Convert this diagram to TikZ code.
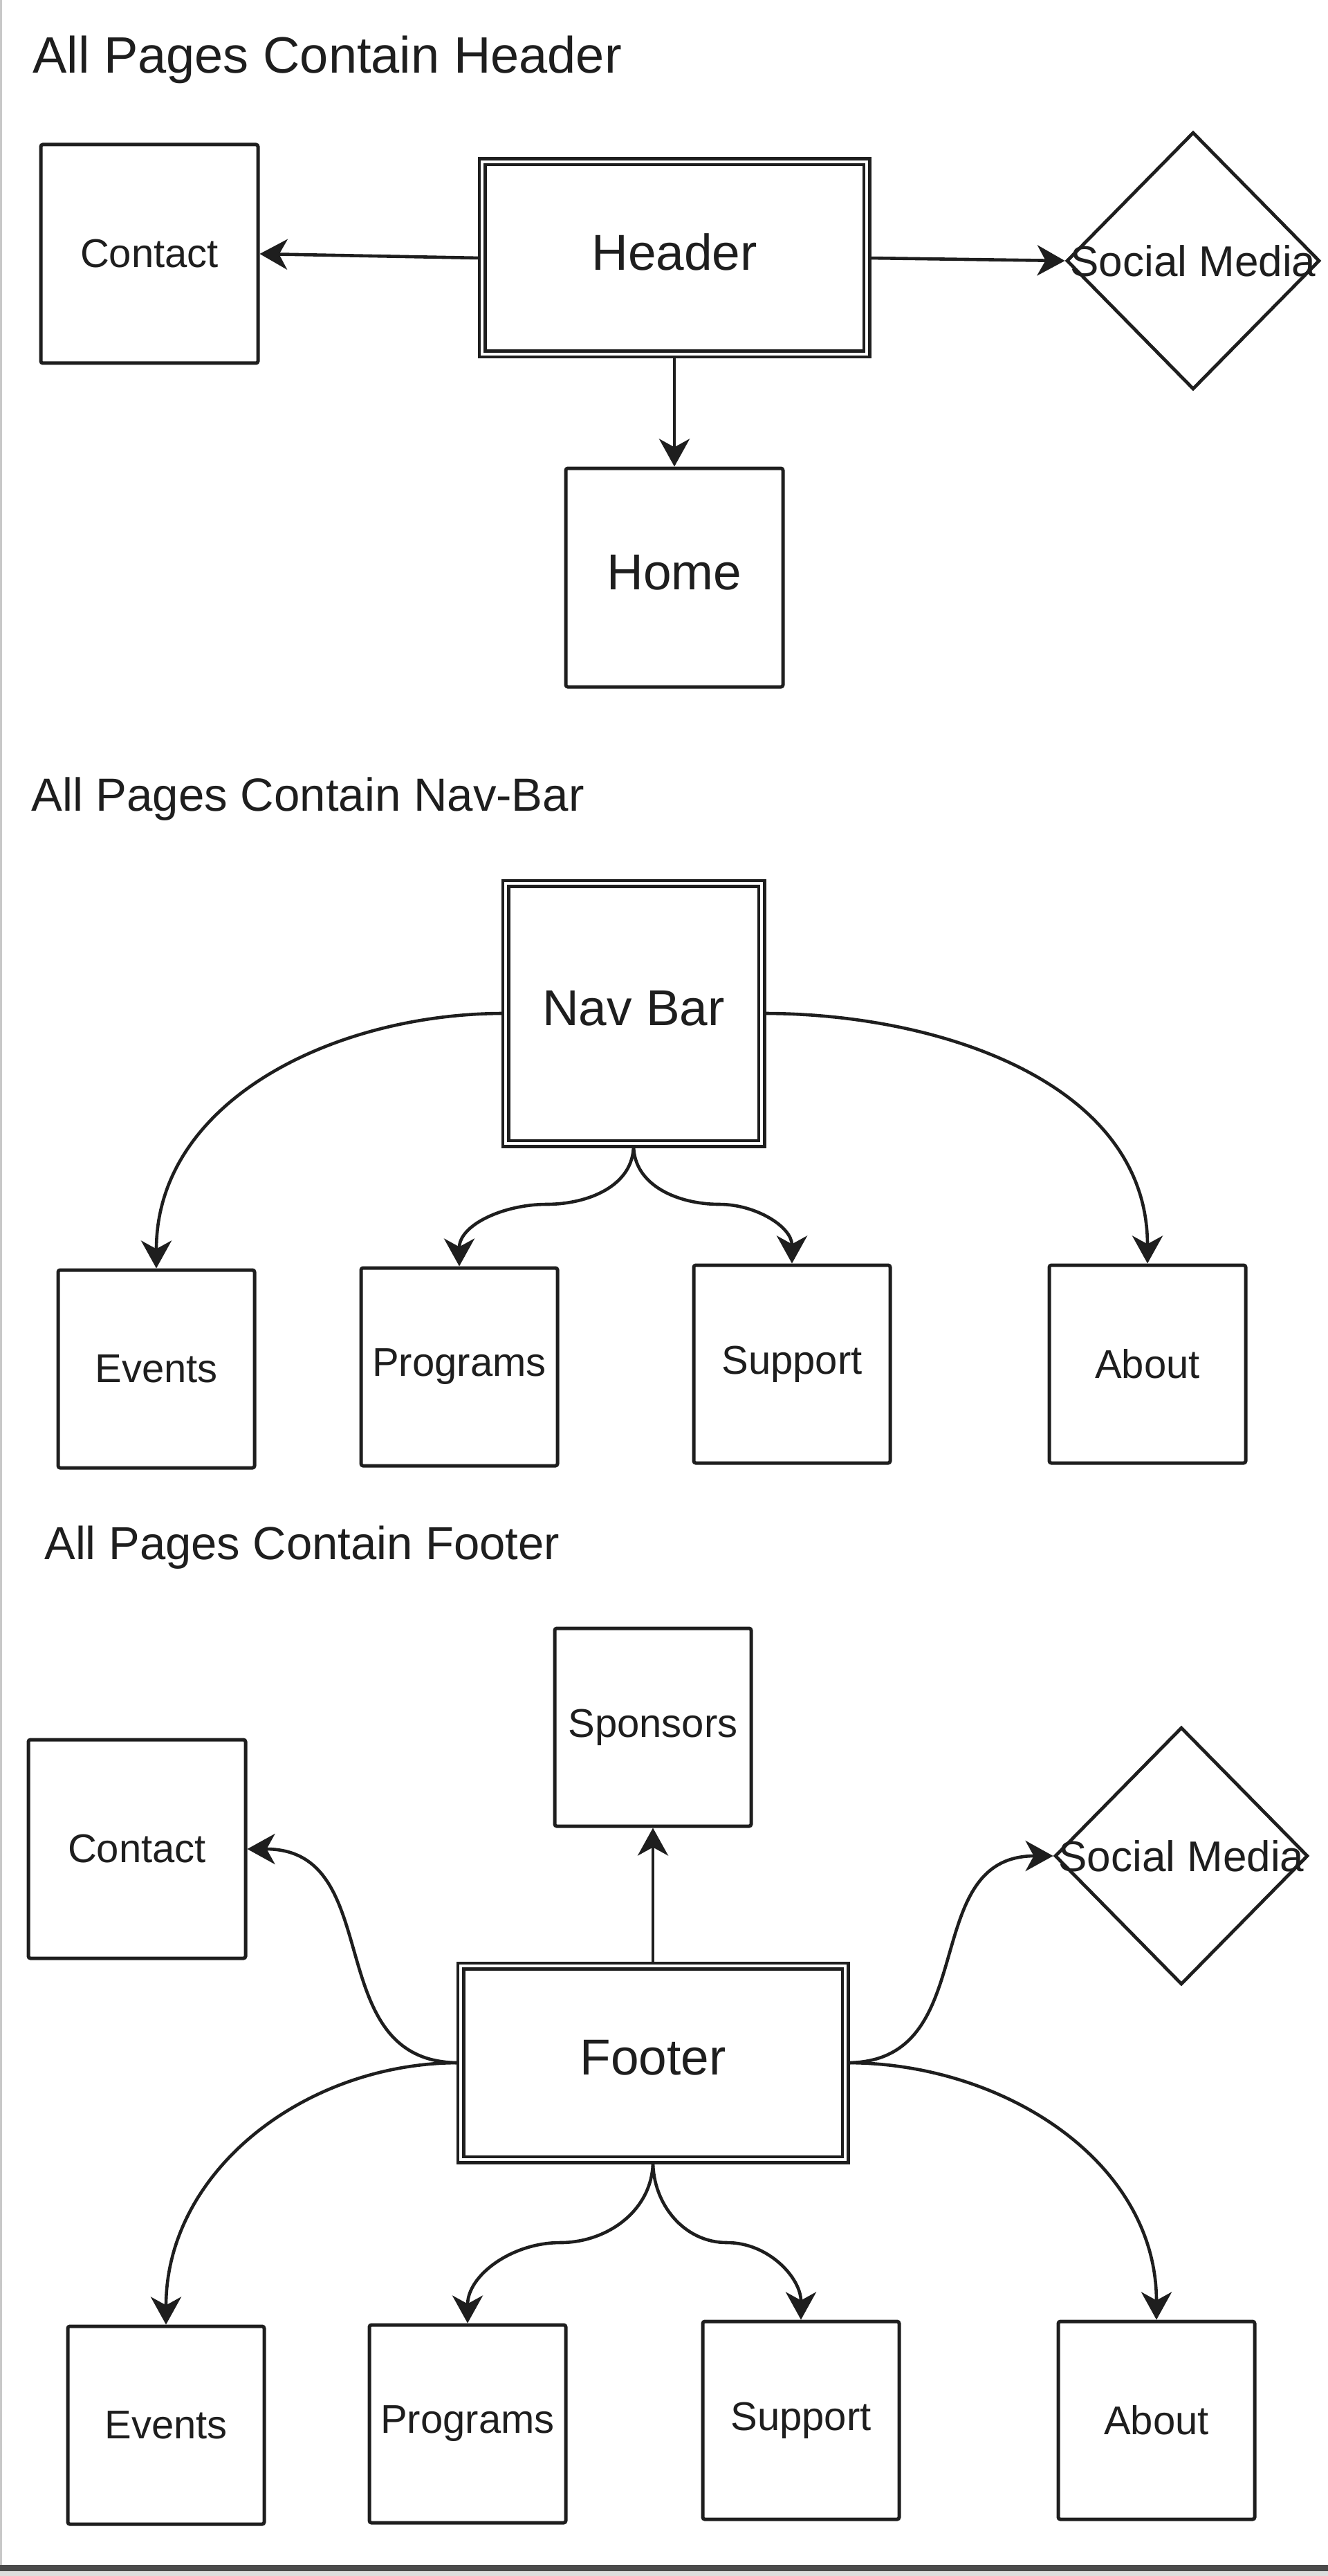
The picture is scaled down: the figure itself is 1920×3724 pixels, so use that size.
\documentclass[tikz,border=0pt]{standalone}
\usepackage{fontspec}
\setmainfont{Liberation Sans}
\usetikzlibrary{shapes.geometric,arrows.meta}
\definecolor{ln}{HTML}{1E1E1E}
\definecolor{bordl}{HTML}{C8C8C8}
\definecolor{bordd}{HTML}{4A4A4A}
\definecolor{bordx}{HTML}{DDDDDD}
\begin{document}
\begin{tikzpicture}[x=0.5pt,y=-0.5pt,
  box/.style={draw=ln, line width=2.5pt, rounded corners=1.5pt, inner sep=0pt, font=\fontsize{29}{34}\selectfont, text=ln},
  sbox/.style={box, minimum width=142pt, minimum height=143pt},
  cbox/.style={box, minimum width=157pt, minimum height=158pt},
  bigtxt/.style={font=\fontsize{36.5}{42}\selectfont, text height=26.5pt, text depth=9pt},
  dbox/.style={draw=ln, double=white, double distance=1.9pt, line width=2.3pt, inner sep=0pt, bigtxt, text=ln},
  dia/.style={diamond, draw=ln, line width=2.4pt, inner sep=0pt, minimum width=183pt, minimum height=186pt},
  diatxt/.style={inner sep=0pt, font=\fontsize{31}{36}\selectfont, text=ln},
  conn/.style={draw=ln, line width=2.3pt, -{Stealth[length=20pt,width=22pt,inset=6pt]}},
  ttl/.style={anchor=west, inner sep=0pt, text=ln}
]
\useasboundingbox (0,0) rectangle (1920,3724);
\fill[white] (0,0) rectangle (1920,3724);
% frame
\draw[bordl, line width=1.3pt] (1.3,0) -- (1.3,3708);
\fill[bordd] (0,3708) rectangle (1920,3717);
\fill[bordx] (0,3717) rectangle (1920,3724);

% ---------- Header section ----------
\node[ttl, font=\fontsize{37}{42}\selectfont] (t1) at (47,86) {All Pages Contain Header};
\node[cbox] (c1) at (216,367) {Contact};
\node[dbox, minimum width=278pt, minimum height=139pt] (hdr) at (975,373) {Header};
\node[dia] (sm1) at (1725,377) {};
\node[diatxt] (sm1t) at (sm1.center) {Social Media};
\node[cbox, bigtxt] (home) at (975,835) {Home};

\draw[conn] (hdr.west) -- (c1.east);
\draw[conn] (hdr.east) -- (sm1.west);
\draw[conn] (hdr.south) -- (home.north);

% ---------- Nav-Bar section ----------
\node[ttl, font=\fontsize{33.6}{40}\selectfont] (t2) at (45,1155) {All Pages Contain Nav-Bar};
\node[dbox, minimum width=185pt, minimum height=188pt] (nav) at (916,1465) {Nav Bar};
\node[sbox] (ev1) at (226,1979) {Events};
\node[sbox] (pr1) at (664,1976) {Programs};
\node[sbox] (su1) at (1145,1972) {Support};
\node[sbox] (ab1) at (1659,1972) {About};
\coordinate (nm1) at (790,1741);
\coordinate (nm2) at (1040,1741);

\draw[conn] (nav.west) to[out=180,in=90] (ev1.north);
\draw[conn] (nav.east) to[out=0,in=90] (ab1.north);
\draw[conn] (nav.south) to[out=-90,in=0] (nm1) to[out=180,in=90] (pr1.north);
\draw[conn] (nav.south) to[out=-90,in=180] (nm2) to[out=0,in=90] (su1.north);

% ---------- Footer section ----------
\node[ttl, font=\fontsize{33.5}{40}\selectfont] (t3) at (64,2237) {All Pages Contain Footer};
\node[sbox] (sp) at (944,2497) {Sponsors};
\node[cbox] (c2) at (198,2673) {Contact};
\node[dia] (sm2) at (1708,2683) {};
\node[diatxt] (sm2t) at (sm2.center) {Social Media};
\node[dbox, minimum width=278pt, minimum height=140pt] (ft) at (944,2982) {Footer};
\node[sbox] (ev2) at (240,3506) {Events};
\node[sbox] (pr2) at (676,3504) {Programs};
\node[sbox] (su2) at (1158,3499) {Support};
\node[sbox] (ab2) at (1672,3499) {About};
\coordinate (fm1) at (810,3242);
\coordinate (fm2) at (1051,3242);

\draw[conn] (ft.north) -- (sp.south);
\draw[conn] (ft.west) to[out=180,in=0,looseness=1.2] (c2.east);
\draw[conn] (ft.east) to[out=0,in=180,looseness=1.2] (sm2.west);
\draw[conn] (ft.west) to[out=180,in=90] (ev2.north);
\draw[conn] (ft.east) to[out=0,in=90] (ab2.north);
\draw[conn] (ft.south) to[out=-90,in=0] (fm1) to[out=180,in=90] (pr2.north);
\draw[conn] (ft.south) to[out=-90,in=180] (fm2) to[out=0,in=90] (su2.north);
\end{tikzpicture}
\end{document}
